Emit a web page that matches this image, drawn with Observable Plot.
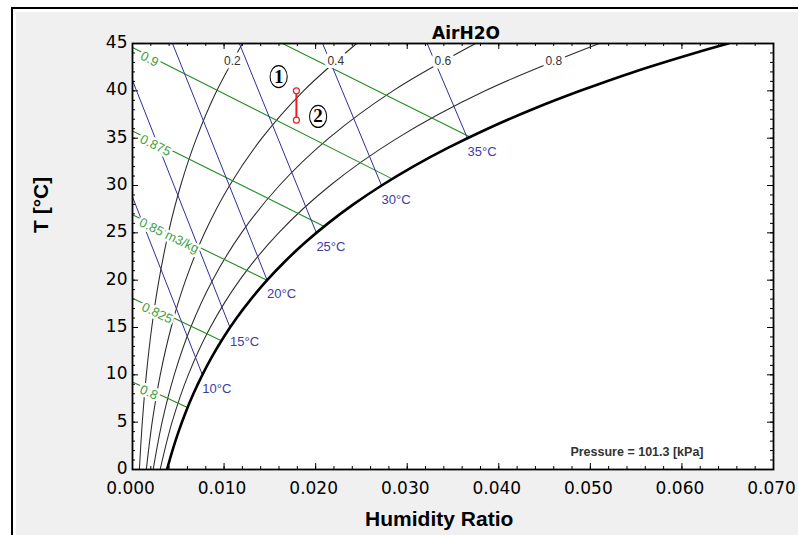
<!DOCTYPE html>
<html><head><meta charset="utf-8">
<script src="https://cdn.jsdelivr.net/npm/d3@7"></script>
<script src="https://cdn.jsdelivr.net/npm/@observablehq/plot@0.6"></script>
<style>
html,body{margin:0;padding:0;background:#fff;width:798px;height:535px;overflow:hidden;position:relative;}
.bk{position:absolute;left:11px;top:7px;width:900px;height:700px;background:#000;}
.wh{position:absolute;left:13px;top:9px;width:900px;height:700px;background:#fff;}
.gr{position:absolute;left:16px;top:12px;width:900px;height:700px;background:#f0f0f0;}
#chart{position:absolute;left:0;top:0;}
circle[aria-label="ell"]{transform-box:fill-box;transform-origin:center;transform:scaleX(0.78);}
</style></head><body>
<div class="bk"></div><div class="wh"></div><div class="gr"></div>
<div id="chart"></div>
<script>
// ---- data ----
const satT = [0,2,4,6,8,10,12,14,16,18,20,22,24,26,28,30,32,34,36,38,40,42,44,45];
const satW = [0.00377,0.00436,0.00503,0.00579,0.00665,0.00763,0.00873,0.00997,0.01137,0.01294,0.01470,0.01667,0.01888,0.02135,0.02412,0.02720,0.03064,0.03449,0.03878,0.04356,0.04889,0.05476,0.06143,0.06505];

const rhT  = [0,5,10,15,20,25,30,35,40,45];
const rh20 = [0.00075,0.00107,0.00151,0.00210,0.00289,0.00392,0.00526,0.00699,0.00920,0.01201];
const rh40 = [0.00151,0.00215,0.00303,0.00422,0.00580,0.00788,0.01060,0.01413,0.01868,0.02448];
const rh60 = [0.00226,0.00323,0.00456,0.00635,0.00874,0.01190,0.01604,0.02144,0.02844,0.03746];
const rh80 = [0.00302,0.00432,0.00609,0.00849,0.01170,0.01596,0.02158,0.02892,0.03851,0.05097];
const rhLabel = ["0.2","0.4","0.6","0.8"];
const rhLabW  = [0.0109,0.0222,0.0339,0.0460];
const rhLabT  = [43.1,43.1,43.1,43.1];

const wbLabel = ["10°C","15°C","20°C","25°C","30°C","35°C"];
const wbTopW  = [0,0,0.00437,0.01167,0.02076,0.03218];
const wbTopT  = [28.8,41.1,45,45,45,45];
const wbSatW  = [0.00763,0.01065,0.01470,0.02008,0.02720,0.03658];
const wbSatT  = [10,15,20,25,30,35];

const vValue  = [0.8,0.825,0.85,0.875,0.9,0.925];
const vTopW   = [0,0,0,0,0,0.01638];
const vTopT   = [9.25,18.08,26.91,35.75,44.58,45];
const vSatW   = [0.00600,0.00971,0.01469,0.02094,0.02836,0.03686];
const vSatT   = [6.55,13.6,20.0,25.68,30.7,35.13];
const vLabel  = ["0.8","0.825","0.85 m3/kg","0.875","0.9"];
const vLabW   = [0.00178,0.0027,0.00399,0.00251,0.00186];
const vLabT   = [8.45,16.83,25.03,34.54,43.67];

const stateW = [0.0179,0.0179];
const stateT = [40.0,36.9];
const tagText = ["1","2"];
const tagW = [0.01596,0.02027];
const tagT = [41.5,37.3];

const xMajor = [0,0.01,0.02,0.03,0.04,0.05,0.06,0.07];
const yMajor = [0,5,10,15,20,25,30,35,40,45];
const xMinor = d3.range(0,0.0701,0.002);
const yMinor = d3.range(0,45.01,1);

// ---- layout ----
const W=798,H=535,ML=132,MR=25,MT=43,MB=66;
const FW=W-ML-MR, FH=H-MT-MB;
const sx = Plot.scale({x:{domain:[0,0.07], range:[ML,W-MR]}});
const sy = Plot.scale({y:{domain:[0,45], range:[H-MB,MT]}});

const sat = satT.map((t,i)=>({w:satW[i], t}));
const rh = [];
[rh20,rh40,rh60,rh80].forEach((arr,k)=>rhT.forEach((t,i)=>rh.push({w:arr[i], t, k})));
const rhLabs = rhLabel.map((s,i)=>({s, w:rhLabW[i], t:rhLabT[i]}));
const wb = [];
wbLabel.forEach((s,i)=>{wb.push({w:wbTopW[i],t:wbTopT[i],k:i}); wb.push({w:wbSatW[i],t:wbSatT[i],k:i});});
const wbLabs = wbLabel.map((s,i)=>({s, w:wbSatW[i], t:wbSatT[i]}));
const vl = [];
vValue.forEach((v,i)=>{vl.push({w:vTopW[i],t:vTopT[i],k:i}); vl.push({w:vSatW[i],t:vSatT[i],k:i});});
const vLabs = vLabel.map((s,i)=>({
  s, w:vLabW[i], t:vLabT[i],
  rot: Math.atan2(sy.apply(vSatT[i])-sy.apply(vTopT[i]), sx.apply(vSatW[i])-sx.apply(vTopW[i]))*180/Math.PI
}));
const states = stateW.map((w,i)=>({w, t:stateT[i]}));
const tags = tagText.map((s,i)=>({s, w:tagW[i], t:tagT[i]}));

const SANS = "Liberation Sans, Arial, sans-serif";
const VER = "DejaVu Sans, Verdana, sans-serif";

const chart = Plot.plot({
  width:W, height:H, marginLeft:ML, marginRight:MR, marginTop:MT, marginBottom:MB,
  style:{background:"transparent", fontFamily:SANS, overflow:"visible"},
  x:{domain:[0,0.07], label:null},
  y:{domain:[0,45], label:null},
  marks:[
    Plot.frame({fill:"white"}),
    // inward ticks
    Plot.tickX(xMinor,{x:d=>d, insetTop:FH-3, stroke:"#000"}),
    Plot.tickX(xMajor,{x:d=>d, insetTop:FH-6, stroke:"#000"}),
    Plot.tickX(xMinor,{x:d=>d, insetBottom:FH-3, stroke:"#000"}),
    Plot.tickX(xMajor,{x:d=>d, insetBottom:FH-6, stroke:"#000"}),
    Plot.tickY(yMinor,{y:d=>d, insetRight:FW-3, stroke:"#000"}),
    Plot.tickY(yMajor,{y:d=>d, insetRight:FW-6, stroke:"#000"}),
    Plot.tickY(yMinor,{y:d=>d, insetLeft:FW-3, stroke:"#000"}),
    Plot.tickY(yMajor,{y:d=>d, insetLeft:FW-6, stroke:"#000"}),
    // relative humidity
    Plot.line(rh,{x:"w", y:"t", z:"k", stroke:"#2a2a2a", strokeWidth:1.05, curve:"catmull-rom", clip:true}),
    // specific volume
    Plot.line(vl,{x:"w", y:"t", z:"k", stroke:"#228c22", strokeWidth:1.1}),
    // wet bulb
    Plot.line(wb,{x:"w", y:"t", z:"k", stroke:"#2e2e9c", strokeWidth:1}),
    // saturation
    Plot.line(sat,{x:"w", y:"t", stroke:"#000", strokeWidth:2.6, curve:"catmull-rom", clip:true}),
    // labels
    Plot.text(rhLabs,{x:"w", y:"t", text:"s", fontSize:12, fontFamily:SANS, fill:"#333", stroke:"white", strokeWidth:7}),
    Plot.text(vLabs,{x:"w", y:"t", text:"s", rotate:"rot", dy:3, fontSize:13, fontFamily:SANS, fill:"#3e9e3e", stroke:"white", strokeWidth:5}),
    Plot.text(wbLabs,{x:"w", y:"t", text:"s", textAnchor:"start", lineAnchor:"top", dy:9, fontSize:13, fontFamily:SANS, fill:"#3b3ba8"}),
    // process 1-2
    Plot.line(states,{x:"w", y:"t", stroke:"#ee1c1c", strokeWidth:2}),
    Plot.dot(states,{x:"w", y:"t", r:3, stroke:"#ee1c1c", strokeWidth:1.2, fill:"white"}),
    Plot.dot(tags,{x:"w", y:"t", r:11, stroke:"#000", strokeWidth:1.3, fill:"white", ariaLabel:()=>"ell"}),
    Plot.text(tags,{x:"w", y:"t", text:"s", fontFamily:"Liberation Serif, Times New Roman, serif", fontWeight:"bold", fontSize:19, fill:"#000"}),
    Plot.text(["Pressure = 101.3 [kPa]"],{text:d=>d, frameAnchor:"bottom-right", textAnchor:"end", lineAnchor:"bottom", dx:-70, dy:-14, fontWeight:"bold", fontSize:12.5, fontFamily:SANS, fill:"#333"}),
    Plot.frame({stroke:"#000", strokeWidth:1.8}),
    // axes
    Plot.axisX({ticks:xMajor, tickFormat:d3.format(".3f"), tickSize:0, tickPadding:12.5, dx:-2, fontSize:17, fontFamily:VER, fill:"#000", label:null}),
    Plot.axisY({ticks:yMajor, tickSize:0, tickPadding:5, dy:-1, fontSize:17, fontFamily:VER, fill:"#000", label:null}),
    Plot.text(["AirH2O"],{text:d=>d, frameAnchor:"top", lineAnchor:"bottom", dx:13, dy:-4.3, fontFamily:VER, fontWeight:"bold", fontSize:17, fill:"#000"}),
    Plot.text(["Humidity Ratio"],{text:d=>d, frameAnchor:"bottom", lineAnchor:"bottom", dx:-13.8, dy:56, fontFamily:SANS, fontWeight:"bold", fontSize:21, fill:"#000"}),
    Plot.text(["T [°C]"],{text:d=>d, frameAnchor:"left", rotate:-90, lineAnchor:"bottom", dx:-84.3, dy:-23.5, fontFamily:SANS, fontWeight:"bold", fontSize:21, fill:"#000"})
  ]
});
document.getElementById("chart").appendChild(chart);
</script></body></html>
